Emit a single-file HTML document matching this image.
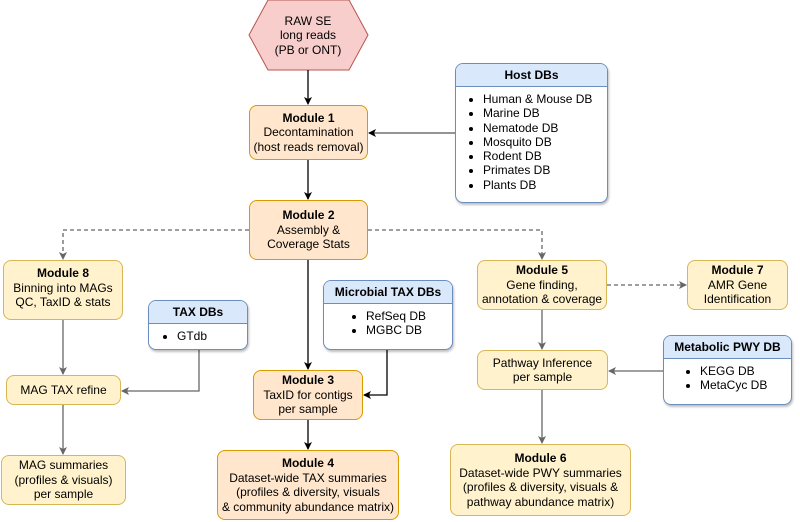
<!DOCTYPE html>
<html><head><style>
body{margin:0;width:800px;height:522px;background:#fff;position:relative;overflow:hidden;font-family:"Liberation Sans",Arial,sans-serif;font-size:12px;color:#000}
.b{position:absolute;box-sizing:border-box;border-radius:8px;display:flex;flex-direction:column;justify-content:center;align-items:center;text-align:center;line-height:14.5px}
.o{background:#ffe6cc;border:1px solid #d79b00}
.y{background:#fff2cc;border:1px solid #d6b656}
.db{position:absolute;box-sizing:border-box;border:1px solid #6c8ebf;border-radius:8px;background:#fff;overflow:hidden;box-shadow:1px 2px 2px rgba(0,0,0,.25)}
.db .h{background:#dae8fc;border-bottom:1px solid #6c8ebf;font-weight:bold;text-align:center;height:22px;line-height:22px}
.db ul{margin:5px 0 0 0;padding-left:27px;line-height:14.3px}
svg{position:absolute;left:0;top:0}
</style></head><body>
<svg width="800" height="522">
<defs>
<marker id="k" markerWidth="8" markerHeight="8" refX="7" refY="4" orient="auto" markerUnits="userSpaceOnUse"><path d="M0,0L8,4L0,8L2,4z" fill="#000"/></marker>
<marker id="g" markerWidth="8" markerHeight="8" refX="7" refY="4" orient="auto" markerUnits="userSpaceOnUse"><path d="M0,0L8,4L0,8L2,4z" fill="#666"/></marker>
</defs>
<polygon points="249,35 268,0 349,0 368,35 349,70 268,70" fill="#f8cecc" stroke="#b85450"/>
<g fill="none" stroke-width="1.3">
<path d="M308,70V104" stroke="#000" marker-end="url(#k)"/>
<path d="M308,160V199" stroke="#000" marker-end="url(#k)"/>
<path d="M308,260V369" stroke="#000" marker-end="url(#k)"/>
<path d="M308,420V449" stroke="#000" marker-end="url(#k)"/>
<path d="M455,133H369" stroke="#555" marker-end="url(#k)"/>
<path d="M387,350V395H364" stroke="#000" marker-end="url(#k)"/>
<path d="M199,350V391H122" stroke="#666" marker-end="url(#g)"/>
<path d="M63,320V374" stroke="#666" marker-end="url(#g)"/>
<path d="M63,405V454" stroke="#666" marker-end="url(#g)"/>
<path d="M542,310V349" stroke="#666" marker-end="url(#g)"/>
<path d="M542,390V443" stroke="#666" marker-end="url(#g)"/>
<path d="M663,371H609" stroke="#666" marker-end="url(#g)"/>
<path d="M249,230H63V259" stroke="#666" stroke-dasharray="4,3" marker-end="url(#g)"/>
<path d="M368,230H542V259" stroke="#666" stroke-dasharray="4,3" marker-end="url(#g)"/>
<path d="M607,285H686" stroke="#666" stroke-dasharray="4,3" marker-end="url(#g)"/>
</g>
<text x="308" y="25" text-anchor="middle" font-size="12" font-family="Liberation Sans">RAW SE</text>
<text x="308" y="39" text-anchor="middle" font-size="12" font-family="Liberation Sans">long reads</text>
<text x="308" y="54" text-anchor="middle" font-size="12" font-family="Liberation Sans">(PB or ONT)</text>
</svg>
<div class="b o" style="left:249px;top:105px;width:119px;height:55px"><b>Module 1</b>Decontamination<br>(host reads removal)</div>
<div class="b o" style="left:249px;top:200px;width:119px;height:60px"><b>Module 2</b>Assembly &amp;<br>Coverage Stats</div>
<div class="b y" style="left:3px;top:260px;width:120px;height:60px;justify-content:flex-start;padding-top:5px"><b>Module 8</b>Binning into MAGs<br>QC, TaxID &amp; stats</div>
<div class="b y" style="left:6px;top:375px;width:115px;height:30px">MAG TAX refine</div>
<div class="b y" style="left:1px;top:455px;width:125px;height:50px">MAG summaries<br>(profiles &amp; visuals)<br>per sample</div>
<div class="b o" style="left:253px;top:370px;width:110px;height:50px"><b>Module 3</b>TaxID for contigs<br>per sample</div>
<div class="b o" style="left:217px;top:450px;width:182px;height:70px"><b>Module 4</b>Dataset-wide TAX summaries<br>(profiles &amp; diversity, visuals<br>&amp; community abundance matrix)</div>
<div class="b y" style="left:477px;top:260px;width:130px;height:50px"><b>Module 5</b>Gene finding,<br>annotation &amp; coverage</div>
<div class="b y" style="left:687px;top:260px;width:101px;height:50px"><b>Module 7</b>AMR Gene<br>Identification</div>
<div class="b y" style="left:477px;top:350px;width:131px;height:40px">Pathway Inference<br>per sample</div>
<div class="b y" style="left:450px;top:444px;width:181px;height:72px"><b>Module 6</b>Dataset-wide PWY summaries<br>(profiles &amp; diversity, visuals &amp;<br>pathway abundance matrix)</div>
<div class="db" style="left:455px;top:63px;width:153px;height:140px"><div class="h">Host DBs</div><ul><li>Human &amp; Mouse DB</li><li>Marine DB</li><li>Nematode DB</li><li>Mosquito DB</li><li>Rodent DB</li><li>Primates DB</li><li>Plants DB</li></ul></div>
<div class="db" style="left:148px;top:300px;width:100px;height:50px"><div class="h">TAX DBs</div><ul style="padding-left:28px"><li>GTdb</li></ul></div>
<div class="db" style="left:323px;top:280px;width:130px;height:70px"><div class="h">Microbial TAX DBs</div><ul style="padding-left:42px"><li>RefSeq DB</li><li>MGBC DB</li></ul></div>
<div class="db" style="left:663px;top:335px;width:129px;height:70px"><div class="h">Metabolic PWY DB</div><ul style="padding-left:36px"><li>KEGG DB</li><li>MetaCyc DB</li></ul></div>
</body></html>
